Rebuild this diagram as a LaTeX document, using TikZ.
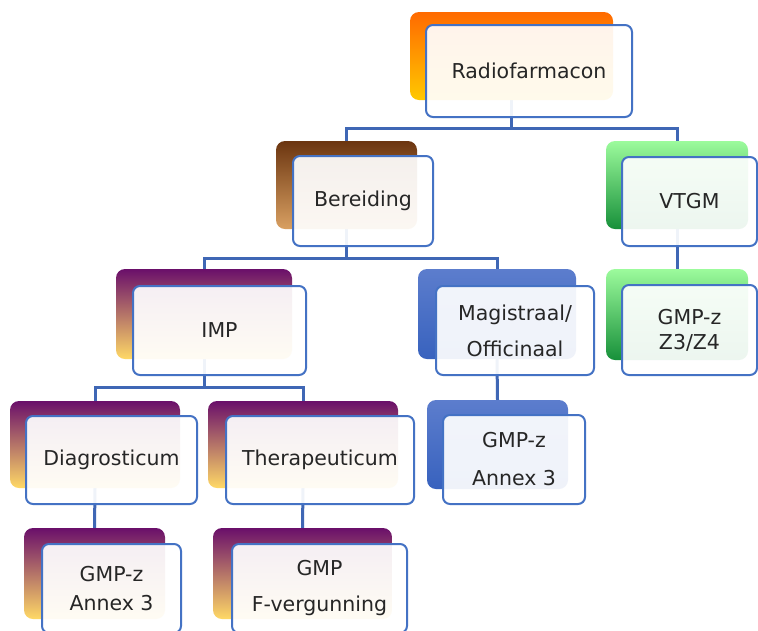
\documentclass[tikz,border=0pt]{standalone}
\usepackage{fontspec}
\setmainfont{DejaVu Sans}
\usetikzlibrary{backgrounds}
\definecolor{linkblue}{HTML}{3F67B5}
\definecolor{edgeblue}{HTML}{4472C4}
\definecolor{radtop}{HTML}{FF6A00}
\definecolor{radbot}{HTML}{FFC800}
\definecolor{bertop}{HTML}{6B3510}
\definecolor{berbot}{HTML}{D9A062}
\definecolor{vtgmtop}{HTML}{9CFB9C}
\definecolor{vtgmbot}{HTML}{17903A}
\definecolor{purptop}{HTML}{6A0F6A}
\definecolor{purpbot}{HTML}{FFD966}
\definecolor{magtop}{HTML}{5C7DCD}
\definecolor{magbot}{HTML}{3862BE}

\begin{document}
\begin{tikzpicture}[x=1pt,y=-1pt,
  back/.style={rounded corners=9pt,inner sep=0pt},
  radback/.style={back,top color=radtop,bottom color=radbot},
  berback/.style={back,top color=bertop,bottom color=berbot},
  vtgmback/.style={back,top color=vtgmtop,bottom color=vtgmbot},
  purpback/.style={back,top color=purptop,bottom color=purpbot},
  magback/.style={back,top color=magtop,bottom color=magbot},
  front/.style={draw=edgeblue,line width=2pt,rounded corners=7pt,fill=white,
    fill opacity=0.92,text opacity=1,text=black!85,align=center,inner sep=0pt,
    font=\fontsize{20.5}{24}\selectfont},
  link/.style={draw=linkblue,line width=3pt}]
\useasboundingbox (0,0) rectangle (758,630);

\node[radback,minimum width=203pt,minimum height=88pt] (radio) at (511.5,56) {};
\node[front,minimum width=206pt,minimum height=92pt] (radio-f) at (529,71) {Radiofarmacon};

\node[berback,minimum width=141pt,minimum height=88pt] (bereid) at (346.5,185) {};
\node[front,minimum width=140pt,minimum height=90pt] (bereid-f) at (363,201) {Bereiding};

\node[vtgmback,minimum width=142pt,minimum height=88pt] (vtgm) at (677,185) {};
\node[front,minimum width=135pt,minimum height=89pt] (vtgm-f) at (689.5,201.5) {VTGM};

\node[vtgmback,minimum width=142pt,minimum height=91pt] (gmpz) at (677,314.5) {};
\node[front,minimum width=135pt,minimum height=90pt] (gmpz-f) at (689.5,330) {GMP-z\\[1pt]Z3/Z4};

\node[purpback,minimum width=176pt,minimum height=90pt] (imp) at (204,314) {};
\node[front,minimum width=173pt,minimum height=89pt] (imp-f) at (219.5,330.5) {IMP};

\node[magback,minimum width=158pt,minimum height=90pt] (magis) at (497,314) {};
\node[front,minimum width=158pt,minimum height=89pt] (magis-f) at (515,330.5) {Magistraal/\\[12pt]Officinaal};

\node[magback,minimum width=141pt,minimum height=89pt] (annexm) at (497.5,444.5) {};
\node[front,minimum width=142pt,minimum height=89pt] (annexm-f) at (514,459.5) {GMP-z\\[14pt]Annex 3};

\node[purpback,minimum width=170pt,minimum height=87pt] (diag) at (95,444.5) {};
\node[front,minimum width=171pt,minimum height=88pt] (diag-f) at (111.5,460) {Diagrosticum};

\node[purpback,minimum width=190pt,minimum height=87pt] (thera) at (303,444.5) {};
\node[front,minimum width=188pt,minimum height=88pt] (thera-f) at (320,460) {Therapeuticum};

\node[purpback,minimum width=141pt,minimum height=91pt] (annexd) at (94.5,573.5) {};
\node[front,minimum width=139pt,minimum height=89pt] (annexd-f) at (111.5,588.5) {GMP-z\\[5pt]Annex 3};

\node[purpback,minimum width=179pt,minimum height=91pt] (fverg) at (302.5,573.5) {};
\node[front,minimum width=175pt,minimum height=89pt] (fverg-f) at (319.5,588.5) {GMP\\[12pt]F-vergunning};

\begin{scope}[on background layer]
\fill[white] (0,0) rectangle (758,630);
\coordinate (bus1) at (radio.south |- 0,128);
\coordinate (bus2) at (bereid.south |- 0,258);
\coordinate (bus3) at (imp.south |- 0,387);
\draw[link] (radio.south) -- (bus1);
\draw[link] (bereid.north) |- (bus1) -| (vtgm.north);
\draw[link] (bereid.south) -- (bus2);
\draw[link] (imp.north) |- (bus2) -| (magis.north);
\draw[link] (imp.south) -- (bus3);
\draw[link] (diag.north) |- (bus3) -| (thera.north);
\draw[link] (vtgm.south) -- (gmpz.north);
\draw[link] (magis.south) -- (annexm.north);
\draw[link] (diag.south) -- (annexd.north);
\draw[link] (thera.south) -- (fverg.north);
\end{scope}
\end{tikzpicture}
\end{document}
